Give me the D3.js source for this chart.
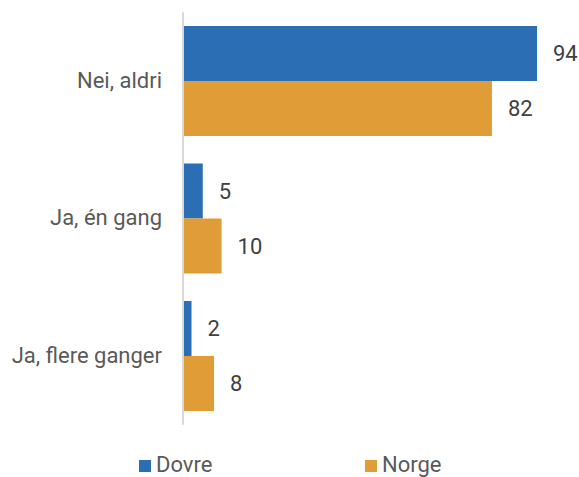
<!DOCTYPE html>
<html>
<head>
<meta charset="utf-8">
<script src="https://cdn.jsdelivr.net/npm/d3@7"></script>
<style>
  html, body { margin: 0; padding: 0; background: #fff; }
  svg { display: block; }
  text { font-family: "Roboto", "Noto Sans", sans-serif; }
</style>
</head>
<body>
<svg id="chart" width="579" height="477"></svg>
<script>
// Answers per category, percent
const categories = ["Nei, aldri", "Ja, én gang", "Ja, flere ganger"];
const seriesNames = ["Dovre", "Norge"];
const dovreValues = [94, 5, 2];
const norgeValues = [82, 10, 8];
const seriesColors = ["#2c6eb4", "#e09d37"];

const rows = categories.map((c, i) => ({
  category: c,
  values: [
    { series: seriesNames[0], value: dovreValues[i] },
    { series: seriesNames[1], value: norgeValues[i] }
  ]
}));

const svg = d3.select("#chart");
const fontSize = 22;

const x = d3.scaleLinear().domain([0, 94]).range([184, 537]);
const y = d3.scaleBand().domain(categories).range([12.25, 424.75]).paddingInner(0.2).paddingOuter(0.1);
const yInner = d3.scaleBand().domain(seriesNames).range([0, y.bandwidth()]);
const color = d3.scaleOrdinal().domain(seriesNames).range(seriesColors);

// category axis line
svg.append("line")
  .attr("x1", 183).attr("x2", 183)
  .attr("y1", y.range()[0]).attr("y2", y.range()[1])
  .attr("stroke", "#d9d9d9").attr("stroke-width", 2);

const groups = svg.selectAll("g.cat")
  .data(rows)
  .join("g")
  .attr("class", "cat")
  .attr("transform", d => `translate(0,${y(d.category)})`);

groups.selectAll("rect")
  .data(d => d.values)
  .join("rect")
  .attr("x", x(0))
  .attr("y", d => yInner(d.series))
  .attr("width", d => x(d.value) - x(0))
  .attr("height", yInner.bandwidth())
  .attr("fill", d => color(d.series));

groups.selectAll("text.val")
  .data(d => d.values)
  .join("text")
  .attr("class", "val")
  .attr("x", d => x(d.value) + 16)
  .attr("y", d => yInner(d.series) + yInner.bandwidth() / 2)
  .attr("dy", "0.35em")
  .attr("font-size", fontSize)
  .attr("fill", "#404040")
  .text(d => d.value);

// category labels
svg.selectAll("text.cat")
  .data(categories)
  .join("text")
  .attr("class", "cat")
  .attr("x", 162)
  .attr("y", d => y(d) + y.bandwidth() / 2 - 1)
  .attr("dy", "0.35em")
  .attr("text-anchor", "end")
  .attr("font-size", fontSize)
  .attr("fill", "#595959")
  .text(d => d);

// legend
const legendX = [139, 365];
const legend = svg.selectAll("g.legend")
  .data(seriesNames)
  .join("g")
  .attr("class", "legend")
  .attr("transform", (d, i) => `translate(${legendX[i]},460)`);

legend.append("rect")
  .attr("width", 12).attr("height", 12)
  .attr("fill", d => color(d));

legend.append("text")
  .attr("x", 17).attr("y", 12)
  .attr("font-size", fontSize)
  .attr("fill", "#595959")
  .text(d => d);
</script>
</body>
</html>
